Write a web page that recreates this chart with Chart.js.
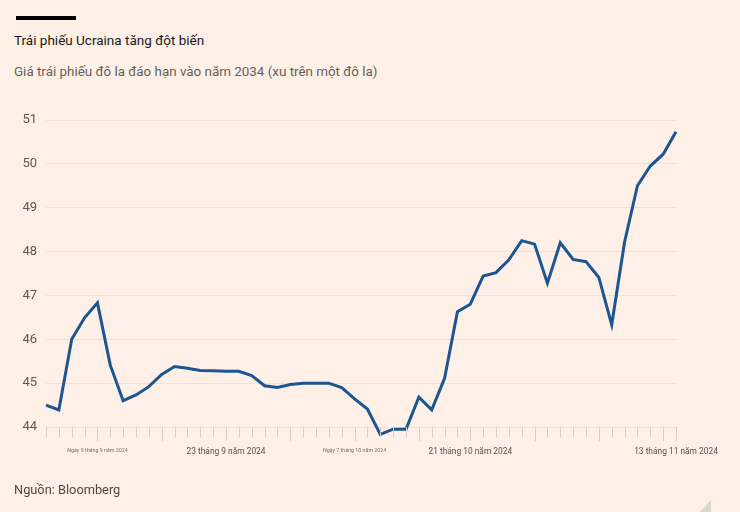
<!DOCTYPE html>
<html>
<head>
<meta charset="utf-8">
<script src="https://cdn.jsdelivr.net/npm/chart.js@4"></script>
<style>
  html, body { margin: 0; padding: 0; }
  body {
    width: 740px; height: 512px; overflow: hidden; position: relative;
    background: #fef0e6; font-family: Roboto, "Noto Sans", sans-serif;
  }
  .bar { position: absolute; left: 16px; top: 16px; width: 60px; height: 4px; background: #000; }
  .title { position: absolute; left: 14px; top: 32px; font-size: 13.5px; color: #1a1817; }
  .subtitle { position: absolute; left: 14px; top: 64px; font-size: 13.4px; color: #66605c; }
  .source { position: absolute; left: 14px; top: 482px; font-size: 12.8px; color: #4f4a46; }
  .fold { position: absolute; left: 700px; top: 500px; width: 0; height: 0;
    border-left: 11px solid transparent; border-bottom: 12px solid #dcd6d1; }
  canvas { position: absolute; left: 0; top: 0; }
</style>
</head>
<body>
<div class="bar"></div>
<div class="title">Trái phiếu Ucraina tăng đột biến</div>
<div class="subtitle">Giá trái phiếu đô la đáo hạn vào năm 2034 (xu trên một đô la)</div>
<canvas id="chart" width="740" height="512"></canvas>
<div class="source">Nguồn: Bloomberg</div>
<div class="fold"></div>
<script>
// trading days, 3 Sep - 13 Nov 2024
const dates = [
  "2024-09-03", "2024-09-04", "2024-09-05", "2024-09-06",
  "2024-09-09", "2024-09-10", "2024-09-11", "2024-09-12", "2024-09-13",
  "2024-09-16", "2024-09-17", "2024-09-18", "2024-09-19", "2024-09-20",
  "2024-09-23", "2024-09-24", "2024-09-25", "2024-09-26", "2024-09-27",
  "2024-09-30", "2024-10-01", "2024-10-02", "2024-10-03", "2024-10-04",
  "2024-10-07", "2024-10-08", "2024-10-09", "2024-10-10", "2024-10-11",
  "2024-10-15", "2024-10-16", "2024-10-17", "2024-10-18",
  "2024-10-21", "2024-10-22", "2024-10-23", "2024-10-24", "2024-10-25",
  "2024-10-28", "2024-10-29", "2024-10-30", "2024-10-31", "2024-11-01",
  "2024-11-04", "2024-11-05", "2024-11-06", "2024-11-07", "2024-11-08",
  "2024-11-12", "2024-11-13"
];

const prices = [
  44.50, 44.39, 46.00, 46.49,
  46.83, 45.41, 44.60, 44.73, 44.92,
  45.20, 45.38, 45.34, 45.29, 45.28,
  45.27, 45.27, 45.17, 44.94, 44.90,
  44.97, 45.00, 45.00, 45.00, 44.90,
  44.64, 44.41, 43.83, 43.95, 43.95,
  44.68, 44.39, 45.11, 46.63,
  46.80, 47.44, 47.52, 47.81, 48.25,
  48.17, 47.28, 48.20, 47.82, 47.77,
  47.41, 46.33, 48.22, 49.50, 49.95,
  50.22, 50.73
];

const yTicks = [44, 45, 46, 47, 48, 49, 50, 51];

// week starts get a longer tick mark
const weekStarts = [
  "2024-09-09", "2024-09-16", "2024-09-23", "2024-09-30", "2024-10-07",
  "2024-10-15", "2024-10-21", "2024-10-28", "2024-11-04", "2024-11-12", "2024-11-13"
];

const xLabels = {
  "2024-09-09": "Ngày 9 tháng 9 năm 2024",
  "2024-09-23": "23 tháng 9 năm 2024",
  "2024-10-07": "Ngày 7 tháng 10 năm 2024",
  "2024-10-21": "21 tháng 10 năm 2024",
  "2024-11-13": "13 tháng 11 năm 2024"
};

const FONT = "Roboto, 'Noto Sans', sans-serif";

const tickMarks = {
  id: "tickMarks",
  afterDraw(chart) {
    const { ctx, scales } = chart;
    const x = scales.x, y = scales.y;
    const base = y.getPixelForValue(44);
    ctx.save();
    ctx.strokeStyle = "#d6ccc3";
    ctx.lineWidth = 1;
    dates.forEach((d, i) => {
      const px = Math.round(x.getPixelForValue(i)) + 0.5;
      const len = weekStarts.includes(d) ? 14 : 10;
      ctx.beginPath();
      ctx.moveTo(px, base);
      ctx.lineTo(px, base + len);
      ctx.stroke();
    });
    ctx.restore();
  }
};

new Chart(document.getElementById("chart"), {
  type: "line",
  data: {
    labels: dates,
    datasets: [{
      data: prices,
      borderColor: "#1d5593",
      borderWidth: 3,
      pointRadius: 0,
      tension: 0,
      clip: false
    }]
  },
  options: {
    responsive: false,
    animation: false,
    events: [],
    layout: { padding: { left: 22, right: 64, top: 120, bottom: 50 } },
    plugins: { legend: { display: false }, tooltip: { enabled: false } },
    scales: {
      x: {
        type: "category",
        offset: false,
        border: { display: false },
        grid: { drawOnChartArea: false, drawTicks: false },
        afterFit: (s) => { s.height = 35; },
        ticks: {
          autoSkip: false,
          maxRotation: 0,
          padding: 20,
          color: (c) => (xLabels[dates[c.index]] || "").startsWith("Ngày") ? "#77716c" : "#57524e",
          font: (c) => ({
            family: FONT,
            size: (xLabels[dates[c.index]] || "").startsWith("Ngày") ? 5.3 : 8.4
          }),
          callback: (v, i) => xLabels[dates[i]] || ""
        }
      },
      y: {
        min: 44,
        max: 51,
        border: { display: false },
        grid: { color: "#ebe1d8", lineWidth: 1, drawTicks: false },
        afterFit: (s) => { s.width = 24; },
        afterBuildTicks: (s) => { s.ticks = yTicks.map(v => ({ value: v })); },
        ticks: {
          padding: 9,
          color: "#5f5955",
          font: { family: FONT, size: 13 }
        }
      }
    }
  },
  plugins: [tickMarks]
});
</script>
</body>
</html>
